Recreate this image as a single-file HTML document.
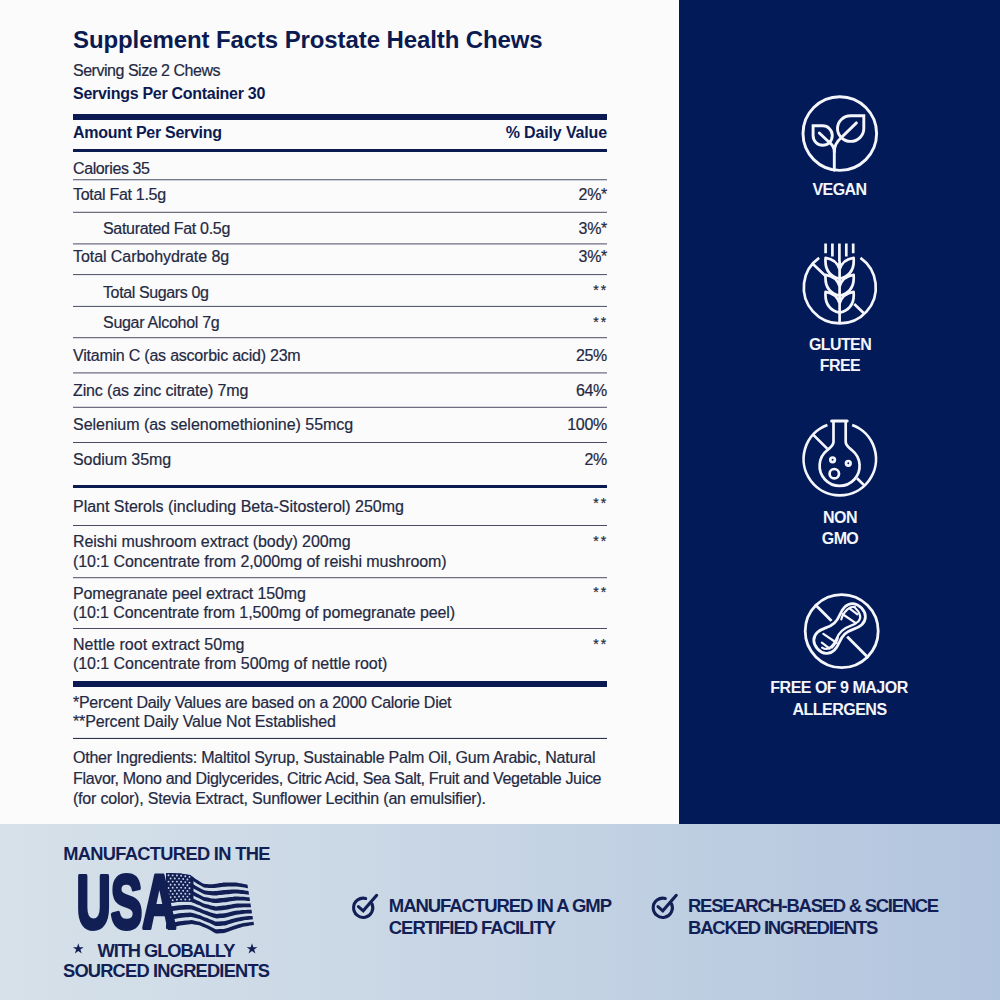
<!DOCTYPE html>
<html><head><meta charset="utf-8"><title>Supplement Facts</title>
<style>
html,body{margin:0;padding:0;}
body{width:1000px;height:1000px;position:relative;overflow:hidden;background:#fbfbfb;font-family:"Liberation Sans", Arial, sans-serif;}
.t{position:absolute;white-space:nowrap;}
.r{-webkit-text-stroke:0.2px #242943;}
#panel{position:absolute;left:679px;top:0;width:321px;height:824px;background:#031a58;}
#band{position:absolute;left:0;top:824px;width:1000px;height:176px;background:linear-gradient(90deg,#d6e1e9 0%,#c6d4e4 50%,#b2c5de 100%);}
svg{position:absolute;overflow:visible;}
</style></head><body>
<div id="panel"></div>
<div id="band"></div>
<div class="t" style="left:73px;top:27.68px;font-size:24px;line-height:24px;font-weight:700;color:#0b1a51;letter-spacing:-0.101px;">Supplement Facts Prostate Health Chews</div>
<div class="t r" style="left:73px;top:63.45px;font-size:16px;line-height:16px;font-weight:400;color:#242943;letter-spacing:-0.475px;">Serving Size 2 Chews</div>
<div class="t" style="left:73px;top:86.25px;font-size:16px;line-height:16px;font-weight:700;color:#0b1a51;letter-spacing:-0.287px;">Servings Per Container 30</div>
<div style="position:absolute;left:73px;top:114px;width:534px;height:6px;background:#0b1a51"></div>
<div class="t" style="left:73px;top:125.35px;font-size:16px;line-height:16px;font-weight:700;color:#0b1a51;letter-spacing:-0.283px;">Amount Per Serving</div>
<div class="t" style="right:393px;top:125.35px;font-size:16px;line-height:16px;font-weight:700;color:#0b1a51;letter-spacing:-0.139px;">% Daily Value</div>
<div style="position:absolute;left:73px;top:149px;width:534px;height:3px;background:#0b1a51"></div>
<div class="t r" style="left:73px;top:160.55px;font-size:16px;line-height:16px;font-weight:400;color:#242943;letter-spacing:-0.394px;">Calories 35</div>
<div class="t r" style="left:73px;top:186.55px;font-size:16px;line-height:16px;font-weight:400;color:#242943;letter-spacing:-0.296px;">Total Fat 1.5g</div>
<div class="t r" style="right:393px;top:186.55px;font-size:16px;line-height:16px;font-weight:400;color:#242943;letter-spacing:-0.3px;">2%*</div>
<div class="t r" style="left:103px;top:221.45px;font-size:16px;line-height:16px;font-weight:400;color:#242943;letter-spacing:-0.308px;">Saturated Fat 0.5g</div>
<div class="t r" style="right:393px;top:221.45px;font-size:16px;line-height:16px;font-weight:400;color:#242943;letter-spacing:-0.3px;">3%*</div>
<div class="t r" style="left:73px;top:249.45px;font-size:16px;line-height:16px;font-weight:400;color:#242943;letter-spacing:-0.062px;">Total Carbohydrate 8g</div>
<div class="t r" style="right:393px;top:249.45px;font-size:16px;line-height:16px;font-weight:400;color:#242943;letter-spacing:-0.3px;">3%*</div>
<div class="t r" style="left:103px;top:285.05px;font-size:16px;line-height:16px;font-weight:400;color:#242943;letter-spacing:-0.378px;">Total Sugars 0g</div>
<div class="t r" style="right:391.5px;top:283.25px;font-size:14px;line-height:14px;font-weight:400;color:#242943;letter-spacing:2.2px;">**</div>
<div class="t r" style="left:103px;top:315.45px;font-size:16px;line-height:16px;font-weight:400;color:#242943;letter-spacing:-0.286px;">Sugar Alcohol 7g</div>
<div class="t r" style="right:391.5px;top:314.95px;font-size:14px;line-height:14px;font-weight:400;color:#242943;letter-spacing:2.2px;">**</div>
<div class="t r" style="left:73px;top:348.05px;font-size:16px;line-height:16px;font-weight:400;color:#242943;letter-spacing:-0.218px;">Vitamin C (as ascorbic acid) 23m</div>
<div class="t r" style="right:393px;top:348.05px;font-size:16px;line-height:16px;font-weight:400;color:#242943;letter-spacing:-0.3px;">25%</div>
<div class="t r" style="left:73px;top:382.65px;font-size:16px;line-height:16px;font-weight:400;color:#242943;letter-spacing:-0.133px;">Zinc (as zinc citrate) 7mg</div>
<div class="t r" style="right:393px;top:382.65px;font-size:16px;line-height:16px;font-weight:400;color:#242943;letter-spacing:-0.3px;">64%</div>
<div class="t r" style="left:73px;top:417.05px;font-size:16px;line-height:16px;font-weight:400;color:#242943;letter-spacing:-0.024px;">Selenium (as selenomethionine) 55mcg</div>
<div class="t r" style="right:393px;top:417.05px;font-size:16px;line-height:16px;font-weight:400;color:#242943;letter-spacing:-0.3px;">100%</div>
<div class="t r" style="left:73px;top:452.05px;font-size:16px;line-height:16px;font-weight:400;color:#242943;letter-spacing:-0.052px;">Sodium 35mg</div>
<div class="t r" style="right:393px;top:452.05px;font-size:16px;line-height:16px;font-weight:400;color:#242943;letter-spacing:-0.3px;">2%</div>
<svg width="1000" height="1000" style="left:0;top:0" viewBox="0 0 1000 1000"><g fill="#4a4d63"><rect x="73" y="179.25" width="534" height="1"/><rect x="73" y="211.80" width="534" height="1"/><rect x="73" y="243.40" width="534" height="1"/><rect x="73" y="274.10" width="534" height="1"/><rect x="73" y="305.90" width="534" height="1"/><rect x="73" y="337.20" width="534" height="1"/><rect x="73" y="372.40" width="534" height="1"/><rect x="73" y="406.80" width="534" height="1"/><rect x="73" y="442.00" width="534" height="1"/><rect x="73" y="525.00" width="534" height="1"/><rect x="73" y="577.20" width="534" height="1"/><rect x="73" y="628.00" width="534" height="1"/><rect x="73" y="737.9" width="534" height="1.1" fill="#2e3350"/></g></svg>
<div style="position:absolute;left:73px;top:485px;width:534px;height:3px;background:#0b1a51"></div>
<div class="t r" style="left:73px;top:499.05px;font-size:16px;line-height:16px;font-weight:400;color:#242943;letter-spacing:-0.018px;">Plant Sterols (including Beta-Sitosterol) 250mg</div>
<div class="t r" style="left:73px;top:534.05px;font-size:16px;line-height:16px;font-weight:400;color:#242943;letter-spacing:-0.069px;">Reishi mushroom extract (body) 200mg</div>
<div class="t r" style="left:73px;top:554.05px;font-size:16px;line-height:16px;font-weight:400;color:#242943;letter-spacing:-0.069px;">(10:1 Concentrate from 2,000mg of reishi mushroom)</div>
<div class="t r" style="left:73px;top:586.05px;font-size:16px;line-height:16px;font-weight:400;color:#242943;letter-spacing:-0.131px;">Pomegranate peel extract 150mg</div>
<div class="t r" style="left:73px;top:605.05px;font-size:16px;line-height:16px;font-weight:400;color:#242943;letter-spacing:-0.114px;">(10:1 Concentrate from 1,500mg of pomegranate peel)</div>
<div class="t r" style="left:73px;top:637.45px;font-size:16px;line-height:16px;font-weight:400;color:#242943;letter-spacing:0.028px;">Nettle root extract 50mg</div>
<div class="t r" style="left:73px;top:656.05px;font-size:16px;line-height:16px;font-weight:400;color:#242943;letter-spacing:-0.051px;">(10:1 Concentrate from 500mg of nettle root)</div>
<div class="t r" style="right:391.5px;top:495.75px;font-size:14px;line-height:14px;font-weight:400;color:#242943;letter-spacing:2.2px;">**</div>
<div class="t r" style="right:391.5px;top:533.75px;font-size:14px;line-height:14px;font-weight:400;color:#242943;letter-spacing:2.2px;">**</div>
<div class="t r" style="right:391.5px;top:585.35px;font-size:14px;line-height:14px;font-weight:400;color:#242943;letter-spacing:2.2px;">**</div>
<div class="t r" style="right:391.5px;top:636.75px;font-size:14px;line-height:14px;font-weight:400;color:#242943;letter-spacing:2.2px;">**</div>
<div style="position:absolute;left:73px;top:681px;width:534px;height:6px;background:#0b1a51"></div>
<div class="t r" style="left:73px;top:695.05px;font-size:16px;line-height:16px;font-weight:400;color:#242943;letter-spacing:-0.27px;">*Percent Daily Values are based on a 2000 Calorie Diet</div>
<div class="t r" style="left:73px;top:714.45px;font-size:16px;line-height:16px;font-weight:400;color:#242943;letter-spacing:-0.147px;">**Percent Daily Value Not Established</div>
<div class="t r" style="left:73px;top:750.05px;font-size:16px;line-height:16px;font-weight:400;color:#242943;letter-spacing:-0.231px;">Other Ingredients: Maltitol Syrup, Sustainable Palm Oil, Gum Arabic, Natural</div>
<div class="t r" style="left:73px;top:770.65px;font-size:16px;line-height:16px;font-weight:400;color:#242943;letter-spacing:-0.328px;">Flavor, Mono and Diglycerides, Citric Acid, Sea Salt, Fruit and Vegetable Juice</div>
<div class="t r" style="left:73px;top:791.05px;font-size:16px;line-height:16px;font-weight:400;color:#242943;letter-spacing:-0.205px;">(for color), Stevia Extract, Sunflower Lecithin (an emulsifier).</div>
<div class="t" style="left:539.5px;width:600px;text-align:center;top:181.85px;font-size:16px;line-height:16px;font-weight:700;color:#f4f6fb;letter-spacing:-0.6px;">VEGAN</div>
<div class="t" style="left:540px;width:600px;text-align:center;top:336.55px;font-size:16px;line-height:16px;font-weight:700;color:#f4f6fb;letter-spacing:-0.6px;">GLUTEN</div>
<div class="t" style="left:540px;width:600px;text-align:center;top:357.55px;font-size:16px;line-height:16px;font-weight:700;color:#f4f6fb;letter-spacing:-0.6px;">FREE</div>
<div class="t" style="left:540px;width:600px;text-align:center;top:510.05px;font-size:16px;line-height:16px;font-weight:700;color:#f4f6fb;letter-spacing:-0.6px;">NON</div>
<div class="t" style="left:540px;width:600px;text-align:center;top:531.05px;font-size:16px;line-height:16px;font-weight:700;color:#f4f6fb;letter-spacing:-0.6px;">GMO</div>
<div class="t" style="left:539px;width:600px;text-align:center;top:680.05px;font-size:16px;line-height:16px;font-weight:700;color:#f4f6fb;letter-spacing:-0.5px;">FREE OF 9 MAJOR</div>
<div class="t" style="left:539.5px;width:600px;text-align:center;top:701.65px;font-size:16px;line-height:16px;font-weight:700;color:#f4f6fb;letter-spacing:-0.5px;">ALLERGENS</div>
<div class="t" style="left:63.2px;top:845.11px;font-size:18.3px;line-height:18.3px;font-weight:700;color:#121f55;letter-spacing:-0.676px;">MANUFACTURED IN THE</div>
<div class="t" style="left:97.5px;top:941.91px;font-size:18.3px;line-height:18.3px;font-weight:700;color:#121f55;letter-spacing:-1.055px;">WITH GLOBALLY</div>
<div class="t" style="left:63px;top:961.91px;font-size:18.3px;line-height:18.3px;font-weight:700;color:#121f55;letter-spacing:-0.802px;">SOURCED INGREDIENTS</div>
<div class="t" style="left:388.8px;top:896.74px;font-size:18.5px;line-height:18.5px;font-weight:700;color:#121f55;letter-spacing:-1.053px;">MANUFACTURED IN A GMP</div>
<div class="t" style="left:388.8px;top:918.94px;font-size:18.5px;line-height:18.5px;font-weight:700;color:#121f55;letter-spacing:-1.047px;">CERTIFIED FACILITY</div>
<div class="t" style="left:688px;top:896.74px;font-size:18.5px;line-height:18.5px;font-weight:700;color:#121f55;letter-spacing:-1.279px;">RESEARCH-BASED &amp; SCIENCE</div>
<div class="t" style="left:688px;top:918.94px;font-size:18.5px;line-height:18.5px;font-weight:700;color:#121f55;letter-spacing:-1.195px;">BACKED INGREDIENTS</div>
<svg width="1000" height="1000" style="left:0;top:0" viewBox="0 0 1000 1000"><g fill="none" stroke="#f4f6fb" stroke-width="2.9" stroke-linecap="round"><circle cx="839.8" cy="133.6" r="36.8" /><path d="M813.1,125.8 H822.70 A9.60,9.75 0 1 1 813.1,135.55 Z" stroke-linejoin="miter"/><path d="M819.3,133 L829.7,142.7"/><path d="M863.8,115.7 V128.55 A13.15,12.85 0 1 1 850.65,115.7 Z" stroke-linejoin="miter"/><path d="M856.4,122.9 L841.4,137.5"/><path d="M829.7,142.7 Q834.3,146.5 834.3,152 V170.3"/><path d="M841.4,137.5 Q834.3,143.5 834.3,152"/></g></svg>
<svg width="1000" height="1000" style="left:0;top:0" viewBox="0 0 1000 1000"><g fill="none" stroke="#f4f6fb" stroke-width="2.7" stroke-linecap="butt"><path d="M860.45,257.91 A36.0,36.0 0 1 1 819.15,257.91"/><path d="M812.7,263.7 L825.3,275.7 M854.2,304.1 L864.4,313.7"/><path d="M839.6,269.3 Q836.6,259.3 825.6,257.8 Q824.0,274.8 839.6,278.8 M839.6,269.3 Q842.6,259.3 853.6,257.8 Q855.2,274.8 839.6,278.8 M839.6,286.3 Q836.6,276.3 825.6,274.8 Q824.0,291.8 839.6,295.8 M839.6,286.3 Q842.6,276.3 853.6,274.8 Q855.2,291.8 839.6,295.8 M839.6,303.3 Q836.6,293.3 825.6,291.8 Q824.0,308.8 839.6,312.8 M839.6,303.3 Q842.6,293.3 853.6,291.8 Q855.2,308.8 839.6,312.8 M839.6,261 V324 M825.6,243.5 V253.2 M832.4,243.5 V256.4 M839.4,243.5 V261 M846.3,243.5 V256.4 M853.2,243.5 V253.2" stroke-linejoin="round"/></g></svg>
<svg width="1000" height="1000" style="left:0;top:0" viewBox="0 0 1000 1000"><g fill="none" stroke="#f4f6fb" stroke-width="2.7"><path d="M852.18,425.08 A36.2,36.2 0 1 1 827.42,425.08"/><path d="M813.1,434.6 L827.2,448.6 M857.0,478.2 L864.5,485.6"/><path d="M833.5,421.1 V442 C833.5,445.5 830.5,447.5 827.15,450.25 A20,20 0 1 0 852.05,450.25 C848.7,447.5 845.7,445.5 845.7,442 V421.1" stroke-linejoin="round"/><path d="M831.6,421.1 H847.2" stroke-linecap="round" stroke-width="3"/><circle cx="832.6" cy="459.8" r="2.3"/><circle cx="848.3" cy="463.3" r="2.3"/><circle cx="834.3" cy="473.7" r="4.7"/></g></svg>
<svg width="1000" height="1000" style="left:0;top:0" viewBox="0 0 1000 1000"><g fill="none" stroke="#f4f6fb" stroke-width="2.8" stroke-linejoin="round" stroke-linecap="round"><circle cx="841.7" cy="631.1" r="36.5" /><path d="M815.89,605.29 L867.51,656.91"/><g transform="translate(839.6,628.5) rotate(-43)"><path d="M-30,0 C-30,-7.5 -25.5,-12.3 -18.8,-12.3 C-11,-12.3 -8.5,-7.6 0,-7.6 C8.5,-7.6 11,-12.3 18.8,-12.3 C25.5,-12.3 30,-7.5 30,0 C30,7.5 25.5,12.3 18.8,12.3 C11,12.3 8.5,7.6 0,7.6 C-8.5,7.6 -11,12.3 -18.8,12.3 C-25.5,12.3 -30,7.5 -30,0 Z" fill="#031a58" stroke="#031a58" stroke-width="7"/><path d="M-30,0 C-30,-7.5 -25.5,-12.3 -18.8,-12.3 C-11,-12.3 -8.5,-7.6 0,-7.6 C8.5,-7.6 11,-12.3 18.8,-12.3 C25.5,-12.3 30,-7.5 30,0 C30,7.5 25.5,12.3 18.8,12.3 C11,12.3 8.5,7.6 0,7.6 C-8.5,7.6 -11,12.3 -18.8,12.3 C-25.5,12.3 -30,7.5 -30,0 Z" fill="#031a58"/><path d="M25.5,-5 C26,2 23.5,7.4 18.8,7.6 C11,7.8 8.5,3.2 0,3.2 C-8.5,3.2 -11,7.8 -18.8,7.6 C-22.5,7.5 -25,5.5 -25.8,2 M7.5,-5.5 C11,-8 14,-8.6 18.8,-8.6 C22,-8.6 24.5,-7.5 25.8,-5.2 M-7.5,5.5 C-11,8 -14,8.6 -18.8,8.6" stroke-width="2.2"/><path d="M12,-8.3 L15.5,7.2 M21,-8 L22.6,1.8 M-12,8.3 L-15.5,-7.2 M-21,8 L-22.6,-1.8" stroke-width="2.2"/></g></g></svg>
<svg width="1000" height="1000" style="left:0;top:0" viewBox="0 0 1000 1000"><g fill="none" stroke="#121f55" stroke-width="3.1" stroke-linecap="round"><path d="M371.90,903.74 A9.6,9.6 0 1 1 365.68,898.53"/><path d="M358.40,906.60 L363.20,910.80 L376.70,895.30" stroke-linejoin="miter"/><path d="M671.50,903.74 A9.6,9.6 0 1 1 665.28,898.53"/><path d="M658.00,906.60 L662.80,910.80 L676.30,895.30" stroke-linejoin="miter"/></g></svg>
<svg width="1000" height="1000" style="left:0;top:0" viewBox="0 0 1000 1000"><g fill="#121f55"><path d="M166.0,873.0 L167.9,873.1 L169.7,873.1 L171.6,873.2 L173.4,873.3 L175.3,873.3 L177.1,873.4 L179.0,873.5 L180.8,873.6 L182.7,873.9 L184.5,874.2 L186.4,874.5 L188.2,874.7 L190.1,875.1 L191.9,876.3 L193.8,877.6 L195.6,878.9 L197.5,880.1 L199.3,881.3 L201.2,882.4 L203.0,883.4 L204.9,884.0 L206.8,884.1 L208.6,884.2 L210.5,884.2 L212.3,884.3 L214.2,884.0 L216.0,883.7 L217.9,883.4 L219.7,883.1 L221.6,882.9 L223.4,882.6 L225.3,882.5 L227.1,882.5 L229.0,882.5 L230.8,882.5 L232.7,882.5 L234.5,882.5 L236.4,882.6 L238.2,882.9 L240.1,883.3 L241.9,883.6 L243.8,884.0 L245.6,884.3 L247.5,884.7 L248.0,888.2 L246.2,887.9 L244.3,887.6 L242.4,887.3 L240.6,887.0 L238.7,886.8 L236.9,886.5 L235.0,886.4 L233.1,886.4 L231.3,886.5 L229.4,886.6 L227.5,886.6 L225.7,886.7 L223.8,886.7 L221.9,887.0 L220.1,887.3 L218.2,887.5 L216.3,887.8 L214.5,888.0 L212.6,888.1 L210.7,888.1 L208.9,887.9 L207.0,887.8 L205.2,887.7 L203.3,887.2 L201.4,886.1 L199.6,885.1 L197.7,884.0 L195.8,882.8 L194.0,881.6 L192.1,880.4 L190.2,879.2 L188.4,878.9 L186.5,878.6 L184.6,878.4 L182.8,878.2 L180.9,877.9 L179.1,877.8 L177.2,877.8 L175.3,877.8 L173.5,877.7 L171.6,877.7 L169.7,877.7 L167.9,877.7 L166.0,877.7Z"/><path d="M166.0,881.3 L167.9,881.3 L169.7,881.2 L171.6,881.2 L173.5,881.2 L175.4,881.2 L177.2,881.2 L179.1,881.2 L181.0,881.3 L182.9,881.5 L184.7,881.7 L186.6,881.9 L188.5,882.1 L190.4,882.5 L192.2,883.6 L194.1,884.7 L196.0,885.9 L197.9,887.0 L199.7,888.0 L201.6,889.0 L203.5,890.1 L205.4,890.5 L207.2,890.7 L209.1,890.9 L211.0,891.1 L212.9,891.2 L214.7,891.1 L216.6,891.0 L218.5,890.7 L220.3,890.5 L222.2,890.2 L224.1,890.0 L226.0,889.9 L227.8,889.8 L229.7,889.7 L231.6,889.6 L233.5,889.5 L235.3,889.4 L237.2,889.5 L239.1,889.7 L241.0,889.9 L242.8,890.1 L244.7,890.4 L246.6,890.7 L248.5,890.9 L249.0,894.7 L247.2,894.4 L245.3,894.2 L243.4,894.0 L241.5,893.9 L239.6,893.8 L237.7,893.6 L235.8,893.5 L233.9,893.6 L232.1,893.8 L230.2,894.0 L228.3,894.2 L226.4,894.3 L224.5,894.5 L222.6,894.7 L220.7,894.9 L218.8,895.1 L217.0,895.4 L215.1,895.5 L213.2,895.4 L211.3,895.3 L209.4,895.0 L207.5,894.7 L205.6,894.5 L203.7,894.1 L201.9,893.1 L200.0,892.0 L198.1,891.1 L196.2,890.0 L194.3,889.0 L192.4,887.9 L190.5,886.9 L188.6,886.6 L186.8,886.4 L184.9,886.2 L183.0,886.1 L181.1,885.9 L179.2,885.8 L177.3,885.9 L175.4,886.0 L173.5,886.0 L171.7,886.1 L169.8,886.1 L167.9,886.2 L166.0,886.3Z"/><path d="M166.0,889.9 L167.9,889.8 L169.8,889.7 L171.7,889.6 L173.6,889.5 L175.5,889.4 L177.4,889.3 L179.3,889.2 L181.2,889.3 L183.1,889.4 L185.0,889.5 L186.9,889.6 L188.8,889.8 L190.7,890.1 L192.6,891.0 L194.5,892.1 L196.3,893.1 L198.2,894.1 L200.1,895.0 L202.0,896.0 L203.9,897.0 L205.8,897.3 L207.7,897.6 L209.6,898.0 L211.5,898.4 L213.4,898.5 L215.3,898.7 L217.2,898.6 L219.1,898.3 L221.0,898.1 L222.9,897.9 L224.8,897.7 L226.7,897.5 L228.6,897.3 L230.5,897.1 L232.4,896.9 L234.3,896.6 L236.2,896.5 L238.1,896.6 L240.0,896.7 L241.9,896.7 L243.8,896.8 L245.7,897.0 L247.6,897.2 L249.5,897.3 L250.0,901.0 L248.1,900.9 L246.2,900.7 L244.3,900.6 L242.4,900.6 L240.5,900.6 L238.6,900.6 L236.7,900.6 L234.8,900.8 L232.8,901.0 L230.9,901.3 L229.0,901.6 L227.1,901.9 L225.2,902.2 L223.3,902.3 L221.4,902.6 L219.5,902.8 L217.6,903.0 L215.7,903.1 L213.8,902.9 L211.8,902.6 L209.9,902.1 L208.0,901.7 L206.1,901.3 L204.2,900.9 L202.3,900.0 L200.4,899.0 L198.5,898.1 L196.6,897.2 L194.7,896.3 L192.7,895.3 L190.8,894.6 L188.9,894.2 L187.0,894.1 L185.1,894.0 L183.2,894.0 L181.3,893.9 L179.4,893.9 L177.5,894.0 L175.6,894.2 L173.6,894.3 L171.7,894.4 L169.8,894.6 L167.9,894.7 L166.0,894.9Z"/><path d="M166.0,898.5 L167.9,898.3 L169.8,898.1 L171.8,898.0 L173.7,897.8 L175.6,897.6 L177.5,897.4 L179.4,897.2 L181.4,897.2 L183.3,897.3 L185.2,897.3 L187.1,897.4 L189.0,897.4 L191.0,897.7 L192.9,898.5 L194.8,899.3 L196.7,900.2 L198.6,901.1 L200.6,901.9 L202.5,902.9 L204.4,903.8 L206.3,904.2 L208.2,904.6 L210.1,905.2 L212.1,905.7 L214.0,906.0 L215.9,906.4 L217.8,906.2 L219.7,906.0 L221.7,905.8 L223.6,905.6 L225.5,905.4 L227.4,905.1 L229.3,904.7 L231.3,904.4 L233.2,904.0 L235.1,903.8 L237.0,903.6 L238.9,903.5 L240.9,903.5 L242.8,903.4 L244.7,903.4 L246.6,903.5 L248.5,903.5 L250.5,903.6 L251.0,907.2 L249.1,907.2 L247.2,907.2 L245.2,907.2 L243.3,907.2 L241.4,907.4 L239.4,907.5 L237.5,907.7 L235.6,907.8 L233.6,908.2 L231.7,908.6 L229.8,909.0 L227.8,909.4 L225.9,909.8 L224.0,910.0 L222.0,910.2 L220.1,910.4 L218.2,910.6 L216.3,910.8 L214.3,910.4 L212.4,910.0 L210.5,909.4 L208.5,908.7 L206.6,908.2 L204.7,907.7 L202.7,906.9 L200.8,905.9 L198.9,905.1 L196.9,904.4 L195.0,903.6 L193.1,902.8 L191.1,902.1 L189.2,901.8 L187.3,901.8 L185.3,901.8 L183.4,901.8 L181.5,901.8 L179.5,901.9 L177.6,902.1 L175.7,902.3 L173.7,902.6 L171.8,902.8 L169.9,903.0 L167.9,903.3 L166.0,903.5Z"/><path d="M166.0,907.1 L167.9,906.8 L169.9,906.6 L171.8,906.3 L173.8,906.0 L175.7,905.8 L177.7,905.5 L179.6,905.2 L181.5,905.2 L183.5,905.1 L185.4,905.1 L187.4,905.1 L189.3,905.0 L191.2,905.2 L193.2,905.8 L195.1,906.6 L197.1,907.3 L199.0,908.0 L201.0,908.8 L202.9,909.8 L204.8,910.6 L206.8,911.1 L208.7,911.7 L210.7,912.4 L212.6,913.1 L214.6,913.6 L216.5,914.0 L218.4,913.8 L220.4,913.6 L222.3,913.5 L224.3,913.3 L226.2,913.0 L228.2,912.5 L230.1,912.1 L232.0,911.6 L234.0,911.1 L235.9,910.8 L237.9,910.6 L239.8,910.4 L241.7,910.1 L243.7,909.9 L245.6,909.9 L247.6,909.8 L249.5,909.8 L251.5,909.8 L252.0,913.3 L250.1,913.4 L248.1,913.5 L246.2,913.6 L244.2,913.7 L242.3,914.0 L240.3,914.2 L238.4,914.5 L236.4,914.8 L234.4,915.2 L232.5,915.7 L230.5,916.3 L228.6,916.8 L226.6,917.3 L224.7,917.8 L222.7,917.9 L220.8,918.1 L218.8,918.2 L216.8,918.4 L214.9,918.1 L212.9,917.4 L211.0,916.7 L209.0,915.9 L207.1,915.2 L205.1,914.6 L203.2,913.8 L201.2,912.9 L199.2,912.1 L197.3,911.4 L195.3,910.8 L193.4,910.1 L191.4,909.6 L189.5,909.4 L187.5,909.5 L185.6,909.6 L183.6,909.7 L181.6,909.8 L179.7,909.9 L177.7,910.2 L175.8,910.5 L173.8,910.8 L171.9,911.2 L169.9,911.5 L168.0,911.8 L166.0,912.1Z"/><path d="M166.0,915.7 L168.0,915.4 L169.9,915.0 L171.9,914.7 L173.9,914.3 L175.8,913.9 L177.8,913.6 L179.8,913.2 L181.7,913.1 L183.7,913.0 L185.7,912.8 L187.6,912.7 L189.6,912.6 L191.5,912.7 L193.5,913.2 L195.5,913.8 L197.4,914.4 L199.4,914.9 L201.4,915.8 L203.3,916.7 L205.3,917.4 L207.3,918.1 L209.2,918.9 L211.2,919.8 L213.2,920.6 L215.1,921.4 L217.1,921.6 L219.1,921.5 L221.0,921.3 L223.0,921.2 L224.9,921.0 L226.9,920.5 L228.9,919.9 L230.8,919.3 L232.8,918.7 L234.8,918.2 L236.7,917.8 L238.7,917.4 L240.7,917.0 L242.6,916.7 L244.6,916.4 L246.6,916.3 L248.5,916.1 L250.5,916.0 L252.5,915.9 L253.0,919.3 L251.1,919.5 L249.1,919.7 L247.1,919.9 L245.1,920.1 L243.1,920.4 L241.2,920.9 L239.2,921.3 L237.2,921.8 L235.2,922.2 L233.3,922.8 L231.3,923.5 L229.3,924.1 L227.3,924.8 L225.3,925.4 L223.4,925.6 L221.4,925.8 L219.4,925.9 L217.4,926.0 L215.5,925.9 L213.5,925.0 L211.5,924.1 L209.5,923.1 L207.5,922.2 L205.6,921.5 L203.6,920.7 L201.6,919.8 L199.6,918.9 L197.7,918.4 L195.7,917.9 L193.7,917.4 L191.7,917.0 L189.7,917.0 L187.8,917.2 L185.8,917.3 L183.8,917.5 L181.8,917.7 L179.8,917.9 L177.9,918.3 L175.9,918.7 L173.9,919.1 L171.9,919.5 L170.0,919.9 L168.0,920.3 L166.0,920.7Z"/><path d="M166.0,924.3 L168.0,923.9 L170.0,923.4 L172.0,923.0 L174.0,922.5 L175.9,922.1 L177.9,921.6 L179.9,921.2 L181.9,921.0 L183.9,920.8 L185.9,920.6 L187.9,920.4 L189.9,920.2 L191.8,920.1 L193.8,920.5 L195.8,920.9 L197.8,921.4 L199.8,921.8 L201.8,922.7 L203.8,923.6 L205.8,924.4 L207.7,925.2 L209.7,926.2 L211.7,927.2 L213.7,928.2 L215.7,929.2 L217.7,929.3 L219.7,929.1 L221.7,929.0 L223.6,928.9 L225.6,928.6 L227.6,927.9 L229.6,927.2 L231.6,926.5 L233.6,925.7 L235.6,925.2 L237.6,924.6 L239.5,924.1 L241.5,923.6 L243.5,923.1 L245.5,922.8 L247.5,922.5 L249.5,922.3 L251.5,922.1 L253.5,921.8 L254.0,925.0 L252.0,925.3 L250.0,925.6 L248.0,925.9 L246.0,926.2 L244.0,926.5 L242.0,927.1 L240.0,927.7 L238.0,928.3 L236.0,928.9 L234.0,929.5 L232.0,930.3 L230.0,931.1 L228.0,931.8 L226.0,932.6 L224.0,933.1 L222.0,933.2 L220.0,933.3 L218.0,933.4 L216.0,933.5 L214.0,932.4 L212.0,931.2 L210.0,930.1 L208.0,929.0 L206.0,928.1 L204.0,927.2 L202.0,926.4 L200.0,925.5 L198.0,925.1 L196.0,924.8 L194.0,924.4 L192.0,924.0 L190.0,924.2 L188.0,924.5 L186.0,924.8 L184.0,925.0 L182.0,925.2 L180.0,925.5 L178.0,926.0 L176.0,926.5 L174.0,927.0 L172.0,927.5 L170.0,928.0 L168.0,928.5 L166.0,929.0Z"/><path d="M166.0,873.0 L168.0,873.1 L170.0,873.1 L172.0,873.2 L174.0,873.3 L176.0,873.4 L178.0,873.4 L180.0,873.5 L182.0,873.8 L184.0,874.1 L186.0,874.4 L188.0,874.7 L190.0,875.0 L192.0,876.4 L193.5,877.4 L193.5,902.6 L192.0,902.0 L190.0,901.5 L188.0,901.5 L186.0,901.5 L184.0,901.5 L182.0,901.5 L180.0,901.5 L178.0,901.7 L176.0,902.0 L174.0,902.2 L172.0,902.4 L170.0,902.7 L168.0,902.9 L166.0,903.2Z"/></g><g fill="#c9d4e3"><circle cx="168.5" cy="875.3" r="0.95"/><circle cx="172.7" cy="875.4" r="0.95"/><circle cx="176.9" cy="875.5" r="0.95"/><circle cx="181.1" cy="875.7" r="0.95"/><circle cx="185.3" cy="876.3" r="0.95"/><circle cx="189.5" cy="876.9" r="0.95"/><circle cx="170.6" cy="878.5" r="0.95"/><circle cx="174.8" cy="878.5" r="0.95"/><circle cx="179.0" cy="878.6" r="0.95"/><circle cx="183.2" cy="879.0" r="0.95"/><circle cx="187.4" cy="879.5" r="0.95"/><circle cx="168.5" cy="881.6" r="0.95"/><circle cx="172.7" cy="881.6" r="0.95"/><circle cx="176.9" cy="881.6" r="0.95"/><circle cx="181.1" cy="881.7" r="0.95"/><circle cx="185.3" cy="882.1" r="0.95"/><circle cx="189.5" cy="882.6" r="0.95"/><circle cx="170.6" cy="884.8" r="0.95"/><circle cx="174.8" cy="884.7" r="0.95"/><circle cx="179.0" cy="884.5" r="0.95"/><circle cx="183.2" cy="884.8" r="0.95"/><circle cx="187.4" cy="885.2" r="0.95"/><circle cx="168.5" cy="888.0" r="0.95"/><circle cx="172.7" cy="887.8" r="0.95"/><circle cx="176.9" cy="887.6" r="0.95"/><circle cx="181.1" cy="887.6" r="0.95"/><circle cx="185.3" cy="887.9" r="0.95"/><circle cx="189.5" cy="888.2" r="0.95"/><circle cx="170.6" cy="891.0" r="0.95"/><circle cx="174.8" cy="890.8" r="0.95"/><circle cx="179.0" cy="890.5" r="0.95"/><circle cx="183.2" cy="890.7" r="0.95"/><circle cx="187.4" cy="890.9" r="0.95"/><circle cx="168.5" cy="894.3" r="0.95"/><circle cx="172.7" cy="894.0" r="0.95"/><circle cx="176.9" cy="893.7" r="0.95"/><circle cx="181.1" cy="893.5" r="0.95"/><circle cx="185.3" cy="893.7" r="0.95"/><circle cx="189.5" cy="893.9" r="0.95"/><circle cx="170.6" cy="897.3" r="0.95"/><circle cx="174.8" cy="896.9" r="0.95"/><circle cx="179.0" cy="896.5" r="0.95"/><circle cx="183.2" cy="896.5" r="0.95"/><circle cx="187.4" cy="896.6" r="0.95"/><circle cx="168.5" cy="900.6" r="0.95"/><circle cx="172.7" cy="900.2" r="0.95"/><circle cx="176.9" cy="899.7" r="0.95"/><circle cx="181.1" cy="899.4" r="0.95"/><circle cx="185.3" cy="899.5" r="0.95"/><circle cx="189.5" cy="899.5" r="0.95"/></g><text x="76.5" y="928" font-family="Liberation Sans, Arial, sans-serif" font-weight="700" font-size="76" fill="#121f55" textLength="100" lengthAdjust="spacingAndGlyphs" stroke="#121f55" stroke-width="4" stroke-linejoin="round">USA</text><g fill="#121f55"><path d="M78.3,943.3 L79.6,947.2 L83.7,947.2 L80.4,949.6 L81.7,953.5 L78.3,951.1 L74.9,953.5 L76.2,949.6 L72.9,947.2 L77,947.2 Z"/><path d="M252,943.3 L253.3,947.2 L257.4,947.2 L254.1,949.6 L255.4,953.5 L252,951.1 L248.6,953.5 L249.9,949.6 L246.6,947.2 L250.7,947.2 Z"/></g></svg>
</body></html>
